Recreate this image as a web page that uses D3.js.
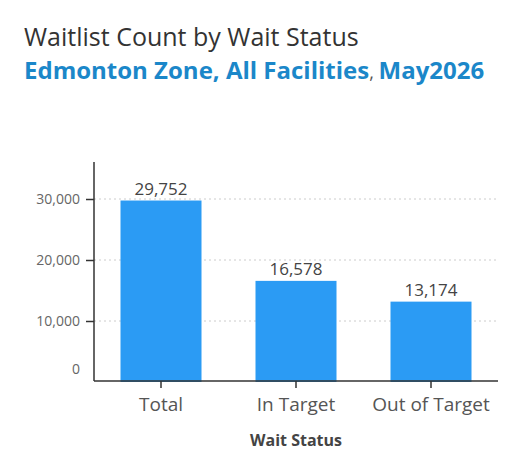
<!DOCTYPE html>
<html><head><meta charset="utf-8">
<script src="https://cdn.jsdelivr.net/npm/d3@7"></script>
<style>body{margin:0;background:#fff;font-family:"Open Sans",sans-serif}</style>
</head><body>
<svg id="chart" width="531" height="476"></svg>
<script>
// chart values
var categories = ["Total", "In Target", "Out of Target"];
var counts = [29752, 16578, 13174];
var yTicks = [0, 10000, 20000, 30000];

var svg = d3.select("#chart");
var fmt = d3.format(",");

svg.append("text").attr("x", 24).attr("y", 46).attr("font-size", 25).attr("fill", "#333")
  .text("Waitlist Count by Wait Status");
var sub = svg.append("text").attr("x", 24).attr("y", 79).attr("font-size", 24).attr("fill", "#1b87c9");
sub.append("tspan").attr("font-weight", "bold").text("Edmonton Zone, All Facilities");
sub.append("tspan").attr("fill", "#555").attr("font-size", 18).text(", ");
sub.append("tspan").attr("font-weight", "bold").text("May2026");

var x = d3.scaleBand().domain(categories).range([93.5, 498.5]).paddingInner(0.4).paddingOuter(0.2);
var y = d3.scaleLinear().domain([0, 30000]).range([382, 199]);

// dotted gridlines
svg.append("g").selectAll("line").data(yTicks.slice(1)).join("line")
  .attr("x1", 94).attr("x2", 496).attr("y1", d => y(d)).attr("y2", d => y(d))
  .attr("stroke", "#ccc").attr("stroke-dasharray", "2,3");

svg.append("g").selectAll("rect").data(counts).join("rect")
  .attr("x", (d, i) => x(categories[i])).attr("width", x.bandwidth())
  .attr("y", d => y(d)).attr("height", d => y(0) - y(d)).attr("fill", "#2b9bf4");

svg.append("g").selectAll("text").data(counts).join("text")
  .attr("x", (d, i) => x(categories[i]) + x.bandwidth() / 2).attr("y", d => y(d) - 6)
  .attr("text-anchor", "middle").attr("font-size", 17).attr("fill", "#444").text(d => fmt(d));

// y axis
var ya = svg.append("g").attr("transform", "translate(94,0)")
  .call(d3.axisLeft(y).tickValues(yTicks).tickSize(8).tickFormat(fmt));
ya.select(".domain").attr("d", "M0,162V381").attr("stroke", "#333").attr("stroke-width", 1.5);
ya.selectAll(".tick line").attr("stroke", "#333").attr("stroke-width", 1.5);
ya.selectAll(".tick text").attr("font-size", 14).attr("fill", "#666").attr("font-family", "Open Sans").attr("x", -14);
ya.selectAll(".tick").filter(d => d === 0).attr("transform", "translate(0,370)").select("line").remove();

// x axis
var xa = svg.append("g").attr("transform", "translate(0,381)")
  .call(d3.axisBottom(x).tickSize(7).tickSizeOuter(0));
xa.select(".domain").attr("d", "M94,0H498").attr("stroke", "#333").attr("stroke-width", 1.5);
xa.selectAll(".tick line").attr("stroke", "#333").attr("stroke-width", 1.5);
xa.selectAll(".tick text").attr("font-size", 19).attr("fill", "#555").attr("font-family", "Open Sans").attr("y", 17);

svg.append("text").attr("x", x(categories[1]) + x.bandwidth() / 2).attr("y", 446)
  .attr("text-anchor", "middle").attr("font-size", 16).attr("font-weight", "bold").attr("fill", "#444")
  .text("Wait Status");
</script>
</body></html>
